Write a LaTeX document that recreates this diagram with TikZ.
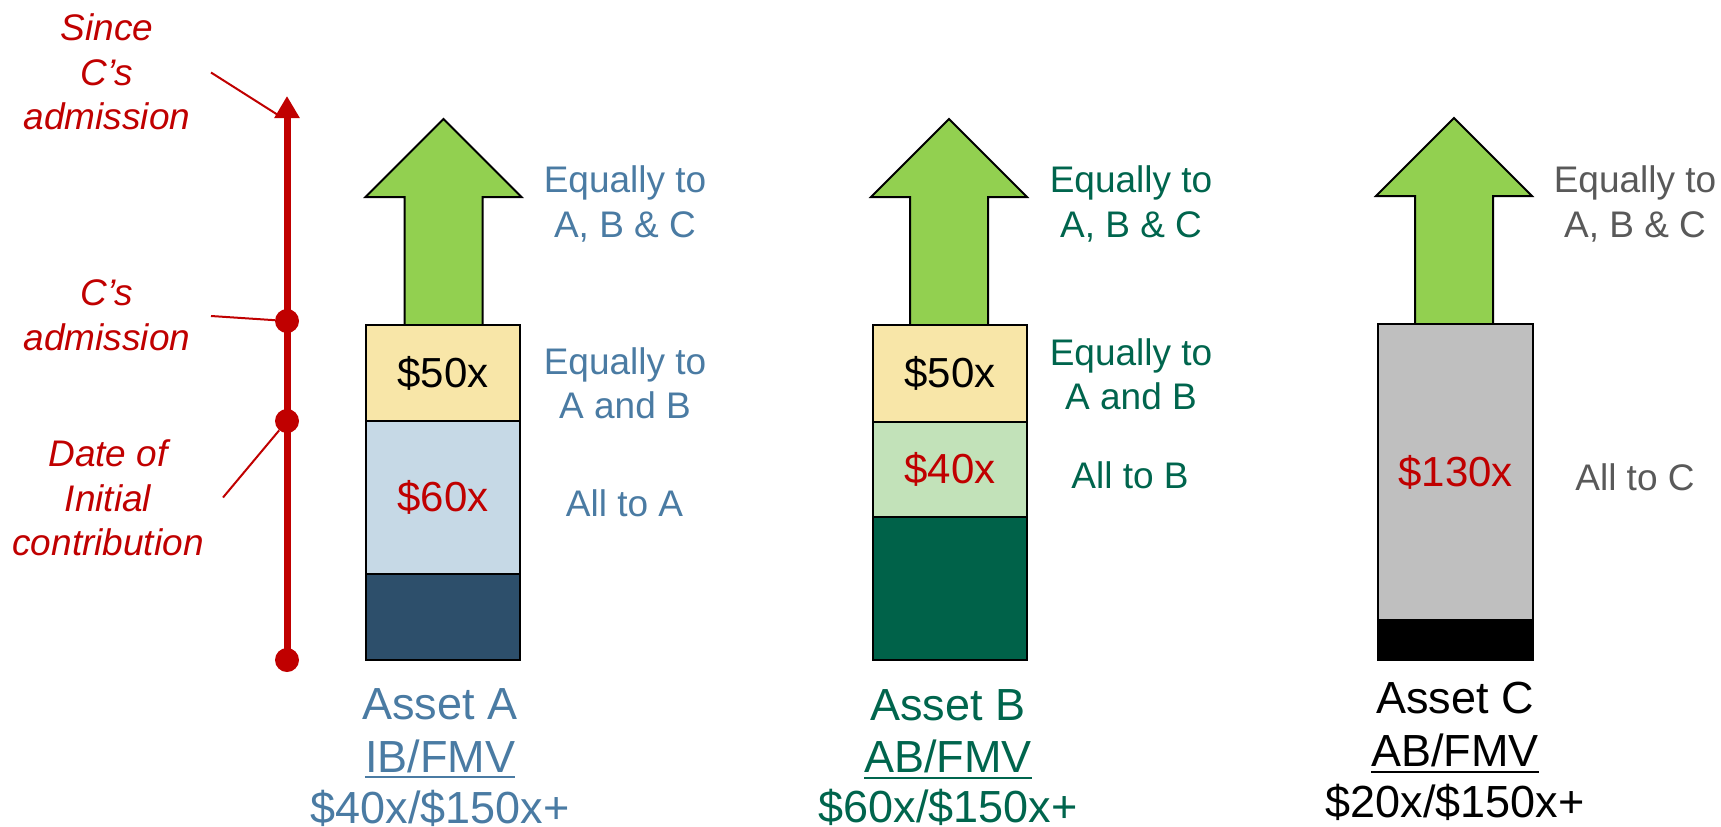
\documentclass[tikz,border=0pt]{standalone}
\usepackage{fontspec}
\setmainfont{Liberation Sans}
\usetikzlibrary{arrows.meta}
\definecolor{tred}{HTML}{C00000}
\definecolor{ablue}{HTML}{4A7BA3}
\definecolor{anavy}{HTML}{2D4F6B}
\definecolor{alight}{HTML}{C6D9E6}
\definecolor{byellow}{HTML}{F8E6A8}
\definecolor{bgreen}{HTML}{00654D}
\definecolor{bdark}{HTML}{006249}
\definecolor{blight}{HTML}{C2E2B9}
\definecolor{agreen}{HTML}{92D050}
\definecolor{cgray}{HTML}{BFBFBF}
\definecolor{ctext}{HTML}{595959}
\tikzset{
  lbl/.style={font=\fontsize{37}{44.5}\selectfont, align=center, inner sep=0},
  tlbl/.style={font=\fontsize{37}{44.5}\selectfont\itshape, align=center, inner sep=0, text=tred},
  num/.style={font=\fontsize{42}{50}\selectfont},
  big/.style={font=\fontsize{45}{54}\selectfont, inner sep=0, anchor=base},
  seg/.style={draw=black, line width=2, minimum width=154, inner sep=0},
  dot/.style={circle, fill=tred, minimum size=24, inner sep=0},
  callout/.style={draw=tred, line width=2},
  uline/.style={line width=2.7},
  uparr/.pic={\draw[fill=agreen, line width=2, miter limit=10] (-39,206) -- (-39,78) -- (-78,78) -- (0,0) -- (78,78) -- (39,78) -- (39,206) -- cycle;}
}
\begin{document}
\begin{tikzpicture}[x=1pt,y=-1pt]
\useasboundingbox (0,0) rectangle (1721,827);

% timeline
\node[dot] (d1) at (287,321) {};
\node[dot] (d2) at (287,421) {};
\node[dot] (d0) at (287,660) {};
\coordinate (ttop) at (287,96);
\draw[tred, line width=7, -{Triangle[length=22pt,width=24pt]}] (d0.center) -- (ttop);

\node[tlbl, anchor=north] (since) at (107,13.5) {Since\\C’s\\admission};
\node[tlbl, anchor=north] (cadm) at (107,279.5) {C’s\\admission};
\node[tlbl, anchor=north] (doi) at (108,439.5) {Date of\\Initial\\contribution};
\coordinate (c1a) at (211,72.5);
\coordinate (c1b) at (278,115);
\coordinate (c2a) at (211,316);
\coordinate (c3a) at (223,497.5);
\draw[callout] (c1a) -- (c1b);
\draw[callout] (c2a) -- (d1);
\draw[callout] (c3a) -- (d2);

% arrows
\pic at (443.5,119) {uparr};
\pic at (949,119) {uparr};
\pic at (1454,118) {uparr};

% Asset A
\node[seg, fill=byellow, minimum height=96, num] (a50) at (443,373) {\$50x};
\node[seg, fill=alight, minimum height=152.5, num, text=tred] (a60) at (443,497.25) {\$60x};
\node[seg, fill=anavy, minimum height=86.5] (abase) at (443,616.75) {};
\node[lbl, text=ablue, anchor=north] (aeq3) at (625,165.5) {Equally to\\A, B \& C};
\node[lbl, text=ablue, anchor=north] (aeq2) at (625,347) {Equally to\\A and B};
\node[lbl, text=ablue, anchor=base] (aall) at (624.5,516.5) {All to A};
\node[big, text=ablue] (anA) at (440,719) {Asset A};
\node[big, text=ablue] (ibA) at (440,772) {IB/FMV};
\draw[uline, ablue] ([yshift=-5pt]ibA.base west) -- ([yshift=-5pt]ibA.base east);
\node[big, text=ablue] (vA) at (440,823) {\$40x/\$150x+};

% Asset B
\node[seg, fill=byellow, minimum height=97, num] (b50) at (950,373.5) {\$50x};
\node[seg, fill=blight, minimum height=95, num, text=tred] (b40) at (950,469.5) {\$40x};
\node[seg, fill=bdark, minimum height=143] (bbase) at (950,588.5) {};
\node[lbl, text=bgreen, anchor=north] (beq3) at (1131,165.5) {Equally to\\A, B \& C};
\node[lbl, text=bgreen, anchor=north] (beq2) at (1131,338) {Equally to\\A and B};
\node[lbl, text=bgreen, anchor=base] (ball) at (1130,488.5) {All to B};
\node[big, text=bgreen] (anB) at (948,720) {Asset B};
\node[big, text=bgreen] (abB) at (948,772) {AB/FMV};
\draw[uline, bgreen] ([yshift=-6pt]abB.base west) -- ([yshift=-6pt]abB.base east);
\node[big, text=bgreen] (vB) at (948,822) {\$60x/\$150x+};

% Asset C
\node[seg, fill=cgray, minimum width=155, minimum height=296, num, text=tred] (c130) at (1455.5,472) {\$130x};
\node[seg, fill=black, minimum width=155, minimum height=40] (cbase) at (1455.5,640) {};
\node[lbl, text=ctext, anchor=north] (ceq3) at (1635,165.5) {Equally to\\A, B \& C};
\node[lbl, text=ctext, anchor=base] (call) at (1635,490) {All to C};
\node[big, text=black] (anC) at (1455,713) {Asset C};
\node[big, text=black] (abC) at (1455,766) {AB/FMV};
\draw[uline, black] ([yshift=-6pt]abC.base west) -- ([yshift=-6pt]abC.base east);
\node[big, text=black] (vC) at (1455,817) {\$20x/\$150x+};
\end{tikzpicture}
\end{document}
